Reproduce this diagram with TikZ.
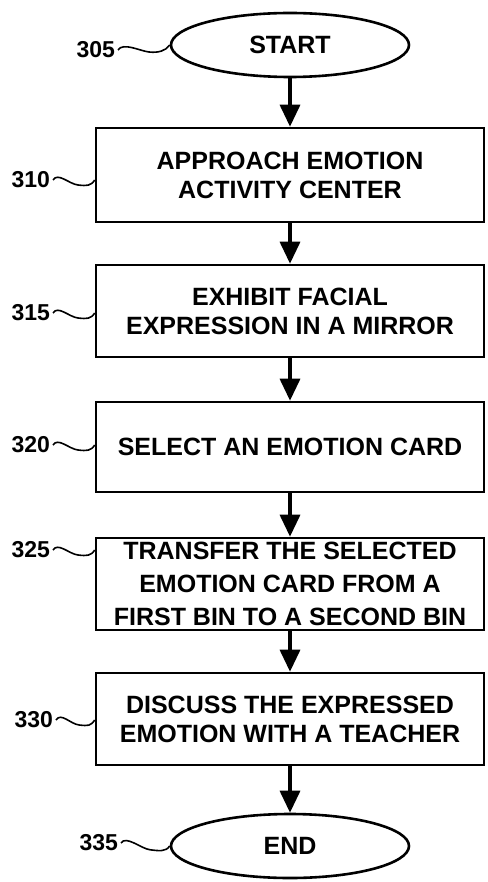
\documentclass[tikz,border=0pt]{standalone}
\usepackage{fontspec}
\setmainfont{Liberation Sans}
\usepackage{tikz}
\usetikzlibrary{arrows.meta,calc,shapes.geometric}

\tikzset{
  stepbox/.style={draw,line width=2.6pt,minimum width=388pt,minimum height=92pt,inner sep=0pt,align=center,font=\fontsize{25}{29}\selectfont\bfseries},
  term/.style={draw,ellipse,line width=2.6pt,minimum width=238pt,minimum height=64pt,inner sep=0pt,font=\fontsize{25}{29}\selectfont\bfseries},
  reflabel/.style={font=\fontsize{23}{23}\selectfont\bfseries,inner sep=0pt,outer sep=3pt,anchor=east},
  flow/.style={line width=3.4pt,-{Triangle[width=20pt,length=22pt]}},
  wave/.style={line width=1.6pt,to path={.. controls +(5,-8) and +(-9,-1) .. ($(\tikztostart)!0.6!(\tikztotarget)+(0,5)$) .. controls +(9,1) and +(-4,6) .. (\tikztotarget)}}
}

\begin{document}
\begin{tikzpicture}[x=1pt,y=-1pt]
  \useasboundingbox (0,0) rectangle (487,882);
  % steps
  \node[term] (start) at (290,45) {START};
  \node[stepbox,minimum height=94pt] (s310) at (290,175) {APPROACH EMOTION\\ACTIVITY CENTER};
  \node[stepbox] (s315) at (290,311) {EXHIBIT FACIAL\\EXPRESSION IN A MIRROR};
  \node[stepbox,minimum height=90pt] (s320) at (290,447) {SELECT AN EMOTION CARD};
  \node[stepbox,font=\fontsize{25}{33}\selectfont\bfseries] (s325) at (290,584) {TRANSFER THE SELECTED\\EMOTION CARD FROM A\\FIRST BIN TO A SECOND BIN};
  \node[stepbox] (s330) at (290,719) {DISCUSS THE EXPRESSED\\EMOTION WITH A TEACHER};
  \node[term] (end) at (290,846) {END};
  % reference numbers
  \node[reflabel] (l305) at (118,50) {305};
  \node[reflabel] (l310) at (53,180) {310};
  \node[reflabel] (l315) at (53,313) {315};
  \node[reflabel] (l320) at (53,445) {320};
  \node[reflabel] (l325) at (53,550) {325};
  \node[reflabel] (l330) at (56,720) {330};
  \node[reflabel] (l335) at (121,843) {335};
  \draw[wave] (l305.east) to (start.west);
  \foreach \n in {310,315,320,325,330}
    \draw[wave] (l\n.east) to (l\n.east -| s\n.west);
  \draw[wave] (l335.east) to (end.west);
  % flow
  \foreach \a/\b in {start/s310,s310/s315,s315/s320,s320/s325,s325/s330,s330/end}
    \draw[flow] (\a) -- (\b);
\end{tikzpicture}
\end{document}
